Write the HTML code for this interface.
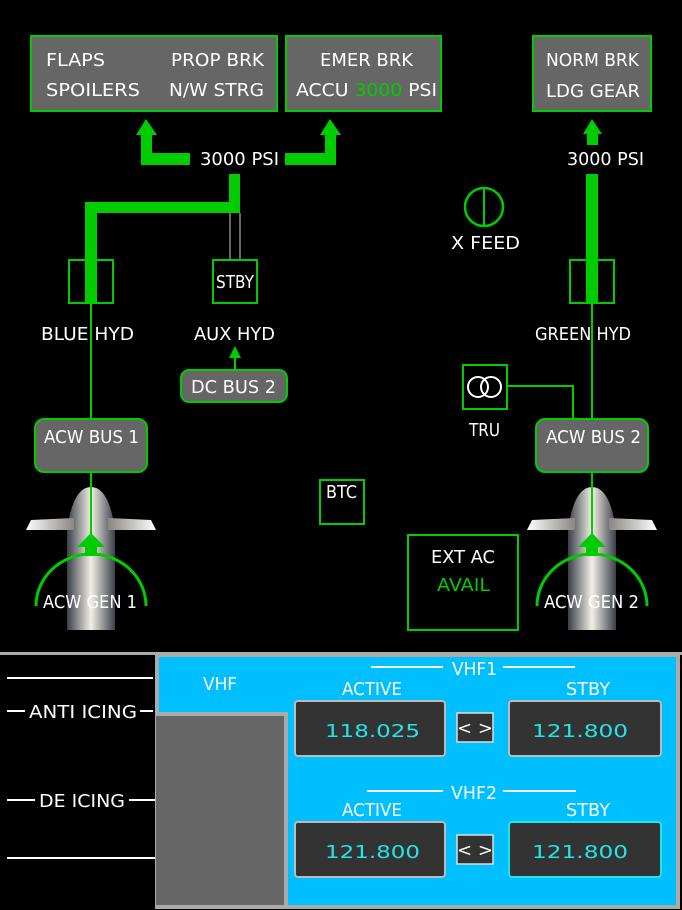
<!DOCTYPE html>
<html><head><meta charset="utf-8"><style>
html,body{margin:0;padding:0;background:#000;width:682px;height:910px;overflow:hidden}
svg{display:block}
text{font-family:"DejaVu Sans","Liberation Sans",sans-serif;fill:#fff;font-size:18px}
</style></head><body>
<svg width="682" height="910" viewBox="0 0 682 910" xmlns="http://www.w3.org/2000/svg">
<defs>
<linearGradient id="body" x1="0" x2="1" y1="0" y2="0">
<stop offset="0" stop-color="#3a3f48"/><stop offset="0.5" stop-color="#f2efe6"/><stop offset="1" stop-color="#3a3f48"/></linearGradient>
<linearGradient id="wing" x1="0" x2="1"><stop offset="0" stop-color="#fff"/><stop offset="1" stop-color="#8a8680"/></linearGradient>
<linearGradient id="wing2" x1="1" x2="0"><stop offset="0" stop-color="#fff"/><stop offset="1" stop-color="#8a8680"/></linearGradient>
<g id="eng">
<path d="M-24,530 L-24,630 L24,630 L24,530 Q18,487 0,487 Q-18,487 -24,530Z" fill="url(#body)"/>
<path d="M-65,530 L-60,520 L-17,518 L-17,530Z" fill="url(#wing)"/>
<path d="M65,530 L60,520 L17,518 L17,530Z" fill="url(#wing2)"/>
<line x1="0" y1="472" x2="0" y2="540" stroke="#00cc00" stroke-width="2"/>
<path d="M-14,547 L0,533 L14,547 L6,547 L6,556 L-6,556 L-6,547Z" fill="#00cc00"/>
<path d="M-55,606 A55,52 0 0 1 55,606" fill="none" stroke="#00cc00" stroke-width="3"/>
</g>
</defs>

<rect x="31" y="36" width="246" height="75" fill="#666" stroke="#00cc00" stroke-width="2"/>
<text x="46" y="66" textLength="59" lengthAdjust="spacingAndGlyphs">FLAPS</text>
<text x="171" y="66" textLength="93" lengthAdjust="spacingAndGlyphs">PROP BRK</text>
<text x="46" y="96" textLength="94" lengthAdjust="spacingAndGlyphs">SPOILERS</text>
<text x="169" y="96" textLength="95" lengthAdjust="spacingAndGlyphs">N/W STRG</text>
<rect x="286" y="36" width="155" height="75" fill="#666" stroke="#00cc00" stroke-width="2"/>
<text x="320" y="66" textLength="93" lengthAdjust="spacingAndGlyphs">EMER BRK</text>
<text x="296" y="96" textLength="141" lengthAdjust="spacingAndGlyphs">ACCU <tspan fill="#00cc00">3000</tspan> PSI</text>
<rect x="533" y="36" width="118" height="75" fill="#666" stroke="#00cc00" stroke-width="2"/>
<text x="546" y="66" textLength="93" lengthAdjust="spacingAndGlyphs">NORM BRK</text>
<text x="546" y="97" textLength="94" lengthAdjust="spacingAndGlyphs">LDG GEAR</text>

<path d="M136,135 L146,119 L157,135 L152,135 L152,153 L190,153 L190,165 L141,165 L141,135Z" fill="#00cc00"/>
<path d="M320,135 L330,119 L341,135 L336,135 L336,165 L285,165 L285,153 L325,153 L325,135Z" fill="#00cc00"/>
<text x="200" y="165" font-size="16" textLength="79" lengthAdjust="spacingAndGlyphs">3000 PSI</text>
<path d="M229,174 L240,174 L240,213 L97,213 L97,303 L85,303 L85,202 L229,202Z" fill="#00cc00"/>
<line x1="230" y1="213" x2="230" y2="259" stroke="#888" stroke-width="1.5"/>
<line x1="240" y1="213" x2="240" y2="259" stroke="#888" stroke-width="1.5"/>
<rect x="69" y="260" width="44" height="43" fill="none" stroke="#00cc00" stroke-width="2"/>
<rect x="213" y="260" width="44" height="43" fill="none" stroke="#00cc00" stroke-width="2"/>
<text x="216" y="288" font-size="15" textLength="38" lengthAdjust="spacingAndGlyphs">STBY</text>
<line x1="91" y1="303" x2="91" y2="420" stroke="#00cc00" stroke-width="2"/>
<text x="41" y="340" textLength="93" lengthAdjust="spacingAndGlyphs">BLUE HYD</text>
<text x="194" y="340" textLength="81" lengthAdjust="spacingAndGlyphs">AUX HYD</text>
<path d="M229,358 L235,346 L241,358Z" fill="#00cc00"/>
<line x1="235" y1="356" x2="235" y2="370" stroke="#00cc00" stroke-width="2"/>
<rect x="181" y="370" width="106" height="32" rx="8" fill="#666" stroke="#00cc00" stroke-width="2"/>
<text x="191" y="393" textLength="85" lengthAdjust="spacingAndGlyphs">DC BUS 2</text>
<rect x="35" y="419" width="112" height="53" rx="9" fill="#666" stroke="#00cc00" stroke-width="2"/>
<text x="44" y="443" textLength="95" lengthAdjust="spacingAndGlyphs">ACW BUS 1</text>
<use href="#eng" transform="translate(91,0)"/>
<text x="43" y="608" textLength="94" lengthAdjust="spacingAndGlyphs">ACW GEN 1</text>
<rect x="320" y="480" width="44" height="44" fill="none" stroke="#00cc00" stroke-width="2"/>
<text x="326" y="498" font-size="16" textLength="31" lengthAdjust="spacingAndGlyphs">BTC</text>

<path d="M583,134 L592,119 L602,134 L598,134 L598,145 L587,145 L587,134Z" fill="#00cc00"/>
<text x="567" y="165" font-size="16" textLength="77" lengthAdjust="spacingAndGlyphs">3000 PSI</text>
<rect x="586" y="174" width="12" height="129" fill="#00cc00"/>
<rect x="570" y="260" width="44" height="43" fill="none" stroke="#00cc00" stroke-width="2"/>
<line x1="592" y1="303" x2="592" y2="420" stroke="#00cc00" stroke-width="2"/>
<text x="535" y="340" textLength="96" lengthAdjust="spacingAndGlyphs">GREEN HYD</text>
<circle cx="484" cy="207" r="19" fill="none" stroke="#00cc00" stroke-width="2.5"/>
<line x1="484" y1="188" x2="484" y2="226" stroke="#00cc00" stroke-width="2"/>
<text x="451" y="249" textLength="69" lengthAdjust="spacingAndGlyphs">X FEED</text>
<rect x="463" y="365" width="44" height="44" fill="none" stroke="#00cc00" stroke-width="2"/>
<circle cx="478" cy="387" r="10" fill="none" stroke="#fff" stroke-width="2"/>
<circle cx="491" cy="387" r="10" fill="none" stroke="#fff" stroke-width="2"/>
<path d="M507,386 L573,386 L573,419" fill="none" stroke="#00cc00" stroke-width="2"/>
<text x="469" y="436" textLength="31" lengthAdjust="spacingAndGlyphs">TRU</text>
<rect x="536" y="419" width="112" height="53" rx="9" fill="#666" stroke="#00cc00" stroke-width="2"/>
<text x="546" y="443" textLength="95" lengthAdjust="spacingAndGlyphs">ACW BUS 2</text>
<use href="#eng" transform="translate(592,0)"/>
<text x="544" y="608" textLength="95" lengthAdjust="spacingAndGlyphs">ACW GEN 2</text>
<rect x="408" y="535" width="110" height="95" fill="none" stroke="#00cc00" stroke-width="2"/>
<text x="431" y="563" textLength="64" lengthAdjust="spacingAndGlyphs">EXT AC</text>
<text x="437" y="591" textLength="53" lengthAdjust="spacingAndGlyphs" style="fill:#00cc00">AVAIL</text>

<rect x="0" y="652" width="682" height="3" fill="#aaa"/>
<line x1="7" y1="678" x2="153" y2="678" stroke="#fff" stroke-width="2"/>
<line x1="7" y1="711" x2="25" y2="711" stroke="#fff" stroke-width="2"/>
<text x="29" y="718" textLength="108" lengthAdjust="spacingAndGlyphs">ANTI ICING</text>
<line x1="140" y1="711" x2="153" y2="711" stroke="#fff" stroke-width="2"/>
<line x1="7" y1="800" x2="35" y2="800" stroke="#fff" stroke-width="2"/>
<text x="39" y="807" textLength="86" lengthAdjust="spacingAndGlyphs">DE ICING</text>
<line x1="129" y1="800" x2="155" y2="800" stroke="#fff" stroke-width="2"/>
<line x1="7" y1="858" x2="155" y2="858" stroke="#fff" stroke-width="2"/>
<rect x="155" y="653" width="525" height="256" fill="#aaa"/>
<rect x="159" y="657" width="517" height="248" fill="#00bfff"/>
<rect x="155" y="712" width="133" height="197" fill="#aaa"/>
<rect x="156" y="716" width="128" height="189" fill="#666"/>
<text x="203" y="690" textLength="34" lengthAdjust="spacingAndGlyphs">VHF</text>

<line x1="371" y1="667" x2="443" y2="667" stroke="#fff" stroke-width="2"/>
<line x1="503" y1="667" x2="575" y2="667" stroke="#fff" stroke-width="2"/>
<text x="452" y="675" textLength="45" lengthAdjust="spacingAndGlyphs">VHF1</text>
<text x="342" y="695" textLength="60" lengthAdjust="spacingAndGlyphs">ACTIVE</text>
<text x="566" y="695" textLength="44" lengthAdjust="spacingAndGlyphs">STBY</text>
<rect x="295" y="701" width="150" height="55" rx="3" fill="#333" stroke="#bbb" stroke-width="2"/>
<text x="325" y="737" font-size="23" textLength="95" lengthAdjust="spacingAndGlyphs" style="fill:#22e5e5">118.025</text>
<rect x="457" y="713" width="36" height="29" fill="#333" stroke="#ddd" stroke-width="1.5"/>
<text x="475" y="734" text-anchor="middle" font-size="18">&lt; &gt;</text>
<rect x="509" y="701" width="152" height="55" rx="3" fill="#333" stroke="#bbb" stroke-width="2"/>
<text x="532" y="737" font-size="23" textLength="96" lengthAdjust="spacingAndGlyphs" style="fill:#22e5e5">121.800</text>

<line x1="367" y1="791" x2="443" y2="791" stroke="#fff" stroke-width="2"/>
<line x1="503" y1="791" x2="576" y2="791" stroke="#fff" stroke-width="2"/>
<text x="451" y="799" textLength="46" lengthAdjust="spacingAndGlyphs">VHF2</text>
<text x="342" y="816" textLength="60" lengthAdjust="spacingAndGlyphs">ACTIVE</text>
<text x="566" y="816" textLength="44" lengthAdjust="spacingAndGlyphs">STBY</text>
<rect x="295" y="822" width="150" height="55" rx="3" fill="#333" stroke="#bbb" stroke-width="2"/>
<text x="325" y="858" font-size="23" textLength="95" lengthAdjust="spacingAndGlyphs" style="fill:#22e5e5">121.800</text>
<rect x="457" y="835" width="36" height="29" fill="#333" stroke="#ddd" stroke-width="1.5"/>
<text x="475" y="856" text-anchor="middle" font-size="18">&lt; &gt;</text>
<rect x="509" y="822" width="152" height="55" rx="3" fill="#333" stroke="#22e5e5" stroke-width="2"/>
<text x="532" y="858" font-size="23" textLength="96" lengthAdjust="spacingAndGlyphs" style="fill:#22e5e5">121.800</text>
</svg>
</body></html>
